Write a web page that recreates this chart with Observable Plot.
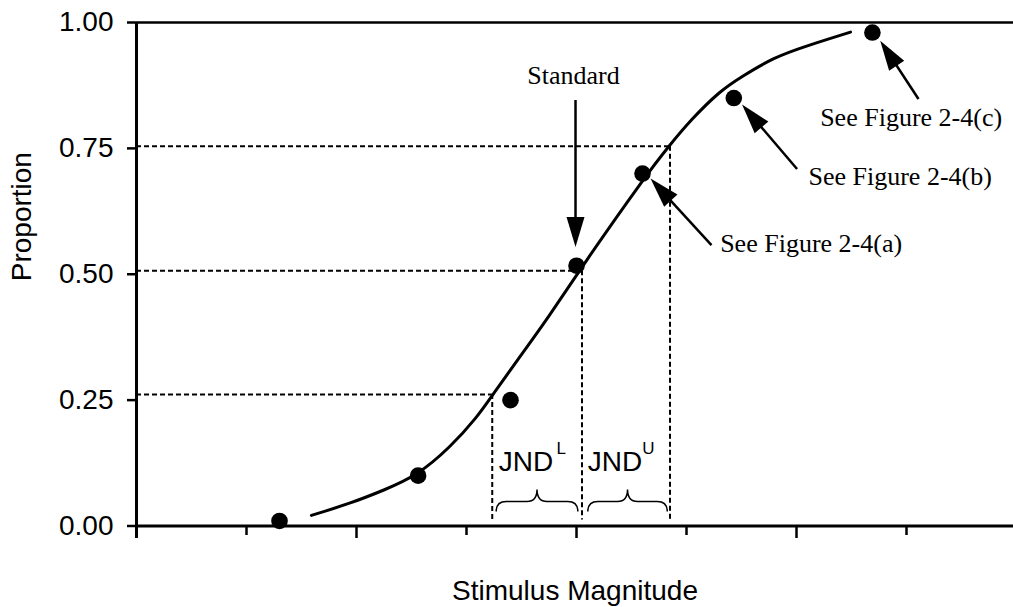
<!DOCTYPE html>
<html>
<head>
<meta charset="utf-8">
<script src="https://cdn.jsdelivr.net/npm/d3@7"></script>
<script src="https://cdn.jsdelivr.net/npm/@observablehq/plot@0.6"></script>
<style>
  html, body { margin: 0; padding: 0; background: #fff; }
  #chart svg { display: block; }
</style>
</head>
<body>
<div id="chart"></div>
<script>
// ---------- data ----------
const xDomain = [0, 7.9727];
const yTicks = [0, 0.25, 0.5, 0.75, 1];
const xTicksMajor = [0, 2, 4, 6];
const xTicksMinor = [1, 3, 5, 7];

// observed proportions
const pointX = [1.30, 2.56, 3.40, 4.00, 4.60, 5.43, 6.69];
const pointY = [0.01, 0.10, 0.25, 0.517, 0.70, 0.85, 0.98];

// fitted psychometric curve
const curveX = [1.59, 1.945, 2.248, 2.552, 2.855, 3.097, 3.239, 3.461, 3.748, 4.066, 4.643, 4.839, 5.036, 5.309, 5.491, 5.794, 6.097, 6.491];
const curveY = [0.021, 0.045, 0.071, 0.100, 0.157, 0.216, 0.261, 0.329, 0.415, 0.521, 0.700, 0.754, 0.806, 0.865, 0.891, 0.931, 0.954, 0.981];

// dashed guide lines (25%, 50%, 75% points)
const guideX = [3.234, 4.05, 4.85];
const guideY = [0.261, 0.507, 0.754];
const guideBottom = 0.012;

// arrows (tail -> tip)
const arrowLabel = ["Standard", "See Figure 2-4(a)", "See Figure 2-4(b)", "See Figure 2-4(c)"];
const arrowX1 = [3.991, 5.227, 6.005, 7.109];
const arrowY1 = [0.846, 0.558, 0.709, 0.848];
const arrowX2 = [3.991, 4.673, 5.505, 6.761];
const arrowY2 = [0.554, 0.690, 0.837, 0.964];

// annotation texts
const noteX = [3.973, 5.306, 6.109, 6.215];
const noteY = [0.895, 0.560, 0.693, 0.810];
const noteAnchor = ["middle", "start", "start", "start"];

// JND labels
const jndText = ["JND", "JND"];
const jndSup = ["L", "U"];
const jndX = [3.294, 4.103];
const jndY = [0.128, 0.128];
const supX = [3.818, 4.597];
const supY = [0.153, 0.153];

// braces
const braceX1 = [3.27, 4.103];
const braceX2 = [4.012, 4.825];
const braceY = [0.029, 0.029];

// ---------- layout ----------
const W = 1013, H = 607;
const mL = 136, mR = 0, mT = 22, mB = 81.5;
const kx = (W - mL - mR) / (xDomain[1] - xDomain[0]);
const ky = (H - mT - mB) / 1;

const SANS = "'Liberation Sans', Arial, Helvetica, sans-serif";
const SERIF = "'Liberation Serif', 'Times New Roman', Times, serif";

const points = pointX.map((x, i) => ({x, y: pointY[i]}));
const curve = curveX.map((x, i) => ({x, y: curveY[i]}));
const guides = guideX.map((x, i) => ({x, y: guideY[i]}));
const arrows = arrowLabel.map((t, i) => {
  const dxp = (arrowX2[i] - arrowX1[i]) * kx;
  const dyp = -(arrowY2[i] - arrowY1[i]) * ky;
  return {t, x1: arrowX1[i], y1: arrowY1[i], x2: arrowX2[i], y2: arrowY2[i],
          angle: Math.atan2(dxp, -dyp) * 180 / Math.PI};
});
const notes = arrowLabel.map((t, i) => ({t, x: noteX[i], y: noteY[i], a: noteAnchor[i]}));
const notesMiddle = notes.filter(d => d.a === "middle");
const notesStart = notes.filter(d => d.a === "start");
const jnds = jndText.map((t, i) => ({t, s: jndSup[i], x: jndX[i], y: jndY[i], sx: supX[i], sy: supY[i]}));
const braces = braceX1.map((x1, i) => ({x1, x2: braceX2[i], y: braceY[i]}));

// arrowhead symbol: tip at origin, pointing up
const headSymbol = {
  draw(context) {
    const L = 30, w = 9;
    context.moveTo(0, 0);
    context.lineTo(-w, L);
    context.lineTo(w, L);
    context.closePath();
  }
};

// curly brace curve between two points (opening downward)
function braceCurve(context) {
  let pts = [];
  return {
    areaStart() {}, areaEnd() {},
    lineStart() { pts = []; },
    point(x, y) { pts.push([+x, +y]); },
    lineEnd() {
      if (pts.length < 2) return;
      const [x0, y0] = pts[0];
      const [x1] = pts[pts.length - 1];
      const h = 22, q = 10, m = (x0 + x1) / 2;
      context.moveTo(x0, y0);
      context.quadraticCurveTo(x0, y0 - q, x0 + q, y0 - q);
      context.lineTo(m - q, y0 - q);
      context.quadraticCurveTo(m, y0 - q, m, y0 - h);
      context.quadraticCurveTo(m, y0 - q, m + q, y0 - q);
      context.lineTo(x1 - q, y0 - q);
      context.quadraticCurveTo(x1, y0 - q, x1, y0);
    }
  };
}

const chart = Plot.plot({
  width: W,
  height: H,
  marginLeft: mL,
  marginRight: mR,
  marginTop: mT,
  marginBottom: mB,
  style: {fontFamily: SANS, background: "#fff", color: "#000", overflow: "visible"},
  x: {domain: xDomain, axis: null},
  y: {domain: [0, 1], axis: null},
  marks: [
    // dashed guides
    Plot.ruleY(guides, {y: "y", x1: 0, x2: "x", stroke: "#000", strokeWidth: 2, strokeDasharray: "5,3"}),
    Plot.ruleX(guides, {x: "x", y1: "y", y2: guideBottom, stroke: "#000", strokeWidth: 2, strokeDasharray: "5,3"}),
    // y axis ticks and labels
    Plot.axisY({ticks: yTicks, tickFormat: ".2f", tickSize: 9, tickPadding: 14, fontSize: 28, strokeWidth: 2.5, label: null}),
    // x axis ticks (no labels)
    Plot.axisX({ticks: xTicksMajor, tickSize: 12.5, tickFormat: () => "", strokeWidth: 2.5, label: null}),
    Plot.axisX({ticks: xTicksMinor, tickSize: 9.5, tickFormat: () => "", strokeWidth: 2.5, label: null}),
    // frame lines
    Plot.ruleY([0], {stroke: "#000", strokeWidth: 3}),
    Plot.ruleY([1], {stroke: "#000", strokeWidth: 2.5}),
    Plot.ruleX([0], {stroke: "#000", strokeWidth: 3, insetBottom: -12.5}),
    // fitted curve
    Plot.line(curve, {x: "x", y: "y", curve: "basis", stroke: "#000", strokeWidth: 3}),
    // data points
    Plot.dot(points, {x: "x", y: "y", r: 8.3, fill: "#000", stroke: "none"}),
    // arrows
    Plot.arrow(arrows, {x1: "x1", y1: "y1", x2: "x2", y2: "y2", headLength: 0, insetEnd: 22, stroke: "#000", strokeWidth: 2.5, strokeLinecap: "butt"}),
    Plot.dot(arrows, {x: "x2", y: "y2", symbol: headSymbol, rotate: "angle", fill: "#000", stroke: "none", r: 5}),
    // annotation text
    Plot.text(notesMiddle, {x: "x", y: "y", text: "t", textAnchor: "middle", lineAnchor: "middle", fontFamily: SERIF, fontSize: 26, fill: "#000"}),
    Plot.text(notesStart, {x: "x", y: "y", text: "t", textAnchor: "start", lineAnchor: "middle", fontFamily: SERIF, fontSize: 26, fill: "#000"}),
    // JND labels
    Plot.text(jnds, {x: "x", y: "y", text: "t", textAnchor: "start", lineAnchor: "middle", fontSize: 28, fill: "#000"}),
    Plot.text(jnds, {x: "sx", y: "sy", text: "s", textAnchor: "start", lineAnchor: "middle", fontSize: 17, fill: "#000"}),
    // braces
    Plot.link(braces, {x1: "x1", x2: "x2", y1: "y", y2: "y", curve: braceCurve, stroke: "#000", strokeWidth: 1.5, fill: "none"}),
    // axis titles
    Plot.text(["Stimulus Magnitude"], {frameAnchor: "bottom", text: d => d, dy: 65.5, lineAnchor: "middle", fontSize: 28, fill: "#000"}),
    Plot.text(["Proportion"], {frameAnchor: "left", text: d => d, rotate: -90, dx: -114, dy: 7, lineAnchor: "middle", fontSize: 28, fill: "#000"})
  ]
});

document.getElementById("chart").appendChild(chart);
</script>
</body>
</html>
